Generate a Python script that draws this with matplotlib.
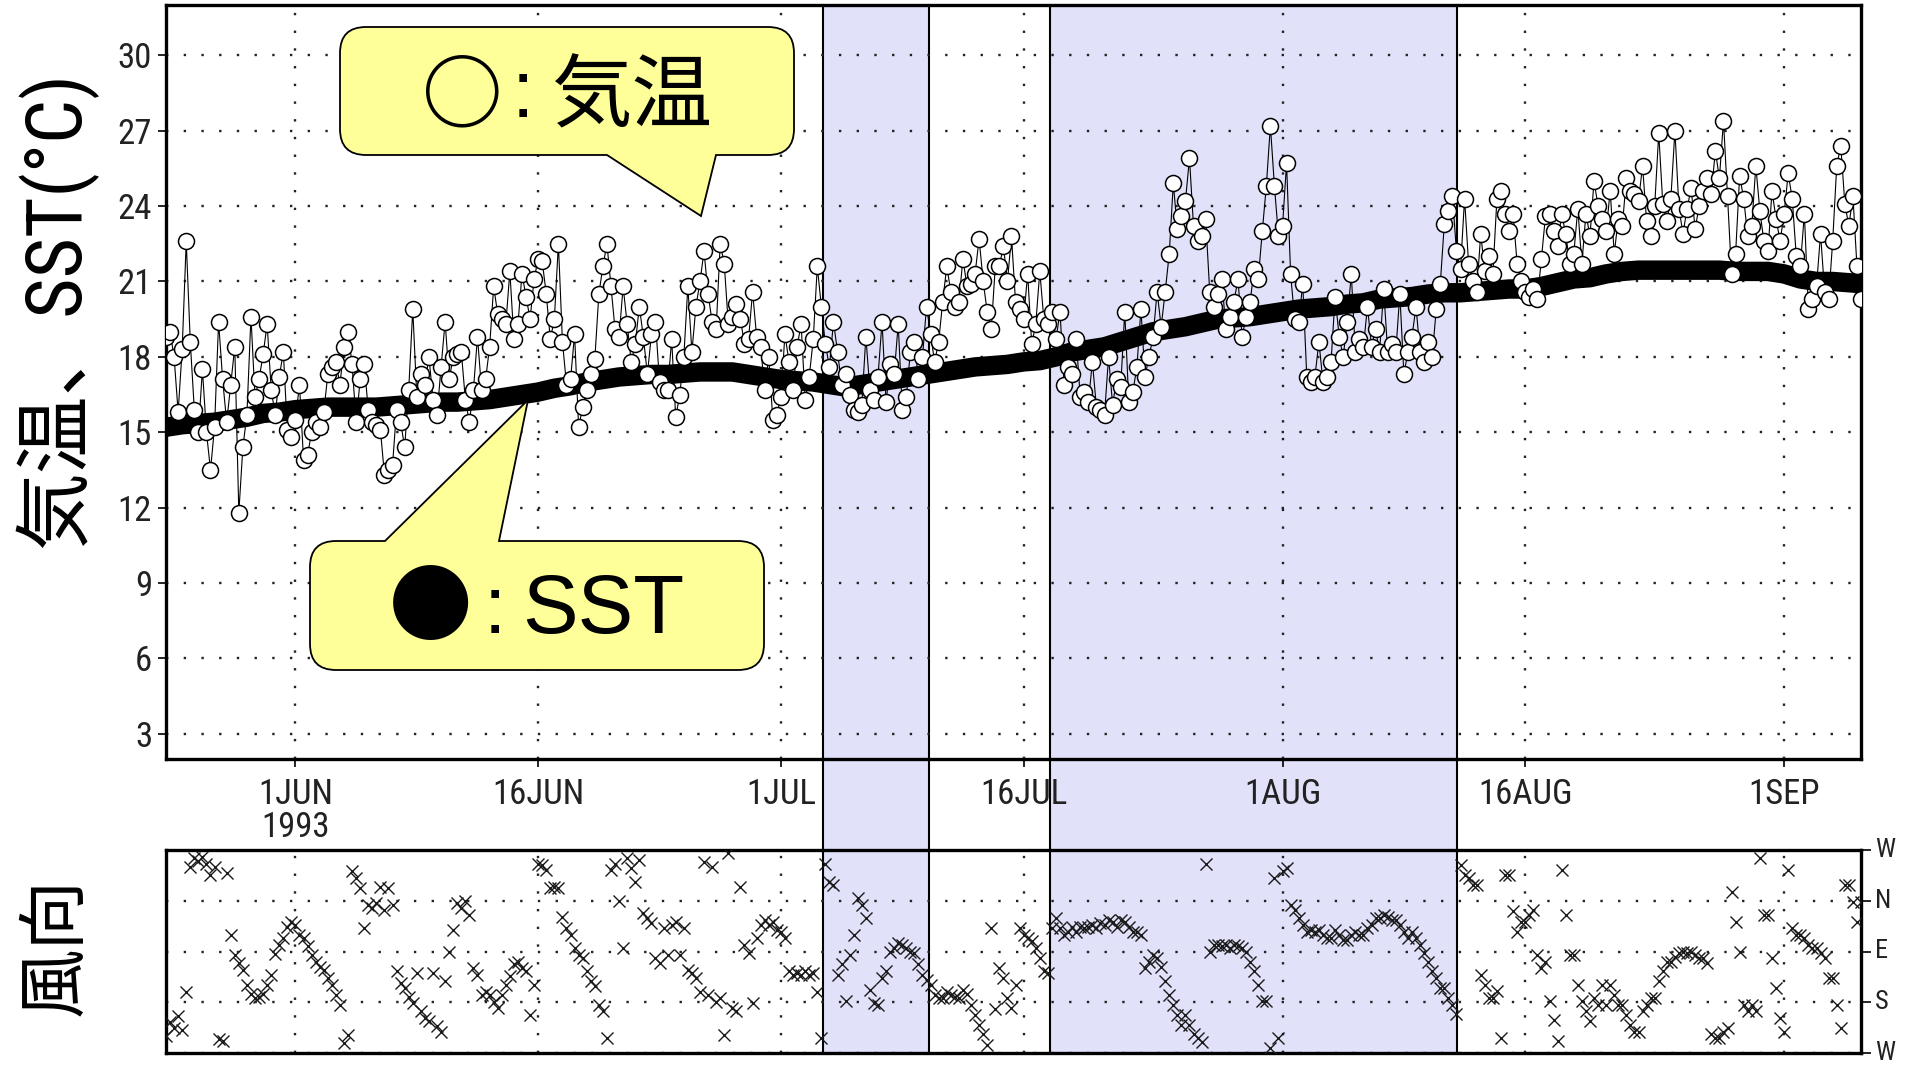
import numpy as np
import pandas as pd
import matplotlib
matplotlib.use('Agg')
import matplotlib.pyplot as plt
import matplotlib.dates as mdates
from matplotlib import font_manager
from matplotlib.patches import Rectangle, PathPatch
from matplotlib.lines import Line2D
from matplotlib.path import Path
from matplotlib.transforms import blended_transform_factory

# 6-hourly air temperature (degC) starting 1993-05-24 00Z, one day per line
air_temp = [
    18.8, 19.0, 18.0, 15.8,  18.3, 22.6, 18.6, 15.9,  15.0, 17.5, 15.0, 13.5,
    15.2, 19.4, 17.1, 15.4,  16.9, 18.4, 11.8, 14.4,  15.7, 19.6, 16.4, 17.1,
    18.1, 19.3, 16.7, 15.7,  17.2, 18.2, 15.1, 14.8,  15.5, 16.9, 13.9, 14.1,
    15.0, 15.4, 15.2, 15.8,  17.3, 17.6, 17.8, 16.9,  18.4, 19.0, 17.7, 15.4,
    17.1, 17.7, 15.9, 15.4,  15.3, 15.1, 13.3, 13.5,  13.7, 15.9, 15.4, 14.4,
    16.7, 19.9, 16.4, 17.3,  16.9, 18.0, 16.3, 15.7,  17.6, 19.4, 17.1, 18.0,
    18.1, 18.2, 16.3, 15.4,  16.7, 18.8, 16.7, 17.1,  18.4, 20.8, 19.7, 19.5,
    19.3, 21.4, 18.7, 19.3,  21.3, 20.4, 19.5, 21.1,  21.9, 21.8, 20.5, 18.7,
    19.5, 22.5, 18.6, 16.9,  17.1, 18.9, 15.2, 16.0,  16.7, 17.3, 17.9, 20.5,
    21.6, 22.5, 20.8, 19.1,  18.8, 20.8, 19.3, 17.8,  18.5, 20.0, 18.8, 17.3,
    18.9, 19.4, 17.0, 16.7,  16.7, 18.7, 15.6, 16.5,  18.0, 20.8, 18.2, 20.0,
    21.0, 22.2, 20.5, 19.4,  19.1, 22.5, 21.7, 19.3,  19.6, 20.1, 19.5, 18.5,
    18.7, 20.6, 18.8, 18.4,  16.7, 18.0, 15.5, 15.7,  16.4, 18.9, 17.8, 16.7,
    18.4, 19.3, 16.3, 17.2,  18.7, 21.6, 20.0, 18.5,  17.6, 19.4, 18.2, 16.9,
    17.3, 16.5, 15.9, 15.8,  16.1, 18.8, 16.7, 16.3,  17.2, 19.4, 16.2, 17.7,
    17.3, 19.3, 15.9, 16.4,  18.2, 18.6, 17.1, 18.0,  20.0, 18.9, 17.8, 18.6,
    20.2, 21.6, 20.6, 20.0,  20.2, 21.9, 20.8, 20.9,  21.3, 22.7, 21.0, 19.8,
    19.1, 21.6, 21.6, 22.4,  21.0, 22.8, 20.2, 19.9,  19.5, 21.3, 18.5, 19.3,
    21.4, 19.5, 19.3, 19.8,  18.7, 19.8, 16.9, 17.6,  17.3, 18.7, 16.4, 16.6,
    16.2, 17.8, 16.0, 15.9,  15.7, 18.0, 16.1, 17.1,  16.8, 19.8, 16.2, 16.6,
    17.6, 19.9, 17.2, 18.0,  18.8, 20.6, 19.2, 20.6,  22.1, 24.9, 23.1, 23.6,
    24.2, 25.9, 23.2, 22.6,  22.8, 23.5, 20.6, 20.0,  20.5, 21.1, 19.1, 19.6,
    20.2, 21.1, 18.8, 19.6,  20.2, 21.5, 21.1, 23.0,  24.8, 27.2, 24.8, 22.8,
    23.2, 25.7, 21.3, 19.5,  19.4, 20.9, 17.2, 17.0,  17.2, 18.6, 17.0, 17.2,
    17.8, 20.4, 18.8, 18.0,  19.4, 21.3, 18.2, 18.7,  18.4, 20.0, 18.4, 19.1,
    18.2, 20.7, 18.2, 18.5,  18.2, 20.5, 17.3, 18.2,  18.8, 20.0, 18.2, 17.8,
    18.6, 18.0, 19.9, 20.9,  23.3, 23.8, 24.4, 22.2,  21.5, 24.3, 21.7, 21.0,
    20.6, 22.9, 21.4, 22.0,  21.3, 24.3, 24.6, 23.7,  23.0, 23.7, 21.7, 21.0,
    20.6, 20.4, 20.7, 20.3,  21.9, 23.6, 23.7, 23.0,  22.4, 23.7, 22.9, 21.7,
    22.1, 23.9, 21.7, 23.7,  22.8, 25.0, 24.0, 23.5,  23.0, 24.6, 22.1, 23.5,
    23.2, 25.1, 24.6, 24.5,  24.2, 25.6, 23.4, 22.8,  24.0, 26.9, 24.1, 23.4,
    24.3, 27.0, 23.9, 22.9,  23.9, 24.7, 23.1, 24.0,  24.6, 25.1, 24.5, 26.2,
    25.1, 27.4, 24.4, 21.3,  22.1, 25.2, 24.3, 22.8,  23.2, 25.6, 23.8, 22.6,
    22.2, 24.6, 23.5, 22.6,  23.7, 25.3, 24.3, 22.0,  21.6, 23.7, 19.9, 20.3,
    20.8, 22.9, 20.6, 20.3,  22.6, 25.6, 26.4, 24.1,  23.2, 24.4, 21.6, 20.3,
]

# daily sea surface temperature (degC) starting 1993-05-24
sst = [
    15.2, 15.3, 15.35, 15.4, 15.5, 15.6, 15.75, 15.8, 15.9, 15.95,
    16.0, 16.0, 16.0, 16.0, 16.05, 16.1, 16.15, 16.2, 16.2, 16.25,
    16.3, 16.4, 16.5, 16.6, 16.75, 16.85, 17.0, 17.1, 17.2, 17.25,
    17.3, 17.3, 17.35, 17.4, 17.4, 17.4, 17.3, 17.2, 17.1, 17.05,
    17.0, 16.9, 16.8, 16.9, 17.0, 17.1, 17.2, 17.3, 17.4, 17.5,
    17.6, 17.65, 17.7, 17.8, 17.85, 18.0, 18.2, 18.3, 18.4, 18.6,
    18.8, 19.0, 19.1, 19.2, 19.35, 19.5, 19.55, 19.6, 19.7, 19.8,
    19.9, 19.95, 20.0, 20.1, 20.15, 20.3, 20.35, 20.4, 20.5, 20.55,
    20.55, 20.6, 20.65, 20.7, 20.7, 20.8, 20.95, 21.1, 21.15, 21.3,
    21.4, 21.45, 21.45, 21.45, 21.45, 21.45, 21.45, 21.4, 21.4, 21.4,
    21.3, 21.1, 21.0, 21.0, 20.95, 20.9,
]

# 6-hourly wind direction (deg from north), same times as air_temp
wind_dir = [
    240, 215, 225, 205,  230, 161, 300, 285,  290, 282, 295, 314,
    300, 245, 249, 310,  60, 96, 110, 122,  150, 165, 173, 170,
    165, 150, 131, 95,  78, 66, 46, 37,  43, 60, 66, 81,
    96, 108, 117, 122,  137, 149, 167, 184,  252, 238, 308, 320,
    338, 49, 7, 13,  4, 335, 16, 338,  8, 125, 146, 155,
    170, 181, 128, 196,  208, 214, 128, 223,  232, 143, 90, 52,
    4, 13, 0, 25,  120, 131, 167, 161,  167, 179, 190, 167,
    149, 134, 113, 108,  120, 125, 202, 150,  294, 297, 305, 338,
    335, 338, 28, 49,  60, 84, 96, 102,  125, 143, 152, 184,
    196, 243, 305, 294,  0, 84, 285, 302,  326, 288, 22, 31,
    40, 102, 111, 49,  96, 43, 37, 96,  49, 122, 128, 137,
    161, 291, 167, 300,  179, 173, 238, 276,  190, 196, 335, 78,
    93, 181, 66, 43,  34, 43, 37, 52,  55, 66, 125, 131,
    128, 131, 125, 131,  128, 161, 243, 294,  326, 332, 131, 113,
    178, 96, 60, 355,  7, 31, 158, 181,  184, 137, 125, 90,
    84, 75, 78, 84,  90, 93, 113, 131,  140, 149, 167, 172,
    173, 161, 167, 170,  173, 158, 165, 184,  202, 220, 237, 255,
    49, 192, 120, 137,  172, 190, 149, 49,  60, 66, 72, 84,
    102, 125, 128, 49,  31, 49, 60, 55,  46, 55, 46, 49,
    46, 43, 49, 40,  43, 34, 37, 46,  34, 37, 46, 55,
    55, 60, 120, 108,  96, 102, 117, 143,  167, 184, 202, 220,
    202, 220, 237, 243,  250, 294, 90, 78,  78, 81, 78, 84,
    78, 81, 84, 90,  108, 125, 149, 178,  178, 261, 320, 243,
    308, 302, 7, 16,  31, 43, 55, 52,  55, 52, 60, 66,
    66, 52, 60, 69,  69, 60, 55, 60,  60, 49, 43, 31,
    31, 25, 28, 34,  34, 43, 55, 66,  55, 66, 78, 93,
    108, 125, 137, 155,  155, 172, 184, 200,  296, 314, 320, 332,
    332, 131, 149, 172,  172, 160, 243, 314,  314, 19, 55, 37,
    37, 25, 16, 96,  120, 108, 178, 211,  249, 305, 25, 96,
    96, 149, 178, 196,  214, 172, 184, 149,  184, 149, 167, 184,
    184, 202, 220, 232,  232, 196, 184, 172,  172, 143, 125, 108,
    108, 99, 93, 90,  93, 90, 96, 102,  102, 110, 237, 243,
    243, 232, 226, 344,  37, 90, 184, 196,  184, 196, 285, 25,
    25, 102, 155, 208,  232, 305, 49, 60,  60, 66, 78, 84,
    84, 93, 102, 137,  137, 184, 226, 332,  332, 2, 37, 2,
]

tick_dates = ['1993-06-01', '1993-06-16', '1993-07-01', '1993-07-16',
              '1993-08-01', '1993-08-16', '1993-09-01']
tick_labels = ['1JUN\n1993', '16JUN', '1JUL', '16JUL', '1AUG', '16AUG', '1SEP']
temp_ticks = [3, 6, 9, 12, 15, 18, 21, 24, 27, 30]
wind_ticks = [-90, 0, 90, 180, 270]
wind_labels = ['W', 'N', 'E', 'S', 'W']
shade_periods = [('1993-07-03 15:00', '1993-07-10 04:00'),
                 ('1993-07-17 15:30', '1993-08-11 19:00')]

times6 = pd.date_range('1993-05-24', periods=len(air_temp), freq='6h')
days = pd.date_range('1993-05-24', periods=len(sst), freq='D')
wd = np.array(wind_dir, dtype=float)
wind_y = np.where(wd > 270, wd - 360, wd)

# pick a narrow sans font if one is installed
avail = {f.name for f in font_manager.fontManager.ttflist}
narrow_font = next((n for n in ['Liberation Sans Narrow', 'Roboto Condensed', 'Arial Narrow',
                                'Open Sans Condensed', 'Liberation Sans'] if n in avail),
                   'DejaVu Sans')
narrow = [narrow_font, 'DejaVu Sans']

W, H = 1905, 1068
fig = plt.figure(figsize=(W / 100, H / 100), dpi=100)
ax1 = fig.add_axes([166 / W, 1 - 759 / H, (1861 - 166) / W, (759 - 5) / H])
ax2 = fig.add_axes([166 / W, 1 - 1053 / H, (1861 - 166) / W, (1053 - 850) / H])

x0, x1 = pd.Timestamp('1993-05-24 00:00'), pd.Timestamp('1993-09-05 18:00')
grid_kw = dict(color='#222222', linestyle=(0, (1, 6.5)), linewidth=1.7)
for ax in (ax1, ax2):
    ax.set_facecolor('none')
    ax.set_xlim(x0, x1)
    ax.set_xticks(pd.to_datetime(tick_dates))
    ax.set_axisbelow(True)
    ax.grid(True, **grid_kw)
    for sp in ax.spines.values():
        sp.set_linewidth(2.4)

# shaded periods + boundary lines span both panels
trans = blended_transform_factory(ax1.transData, fig.transFigure)
yb, yt = 1 - 1053 / H, 1 - 5 / H
for s, e in shade_periods:
    s_num = mdates.date2num(pd.Timestamp(s))
    e_num = mdates.date2num(pd.Timestamp(e))
    fig.add_artist(Rectangle((s_num, yb), e_num - s_num, yt - yb, transform=trans,
                             facecolor='#E1E1FA', edgecolor='none', zorder=-2))
    for xv in (s_num, e_num):
        fig.add_artist(Line2D([xv, xv], [yb, yt], transform=trans, color='black',
                              linewidth=1.5, zorder=-1))

# top panel: air temperature and SST
ax1.plot(days, sst, color='black', linewidth=14, solid_capstyle='round', zorder=3)
ax1.plot(times6, air_temp, '-', color='black', linewidth=0.8, marker='o', markersize=11.5,
         markerfacecolor='white', markeredgecolor='black', markeredgewidth=1.1, zorder=4)
ax1.set_ylim(2, 32)
ax1.set_yticks(temp_ticks)
ax1.set_xticklabels(tick_labels)
ax1.tick_params(axis='both', direction='out', length=6, width=1.2, labelsize=25,
                labelcolor='#222222', pad=4)
ax1.tick_params(axis='x', pad=8)
for lbl in ax1.get_xticklabels() + ax1.get_yticklabels():
    lbl.set_family(narrow)
for lbl in ax1.get_xticklabels():
    lbl.set_linespacing(1.0)

# bottom panel: wind direction
ax2.plot(times6, wind_y, 'x', color='#1a1a1a', markersize=8, markeredgewidth=1.0, zorder=3)
ax2.set_ylim(270, -90)
ax2.set_yticks(wind_ticks)
ax2.set_yticklabels(wind_labels)
ax2.yaxis.tick_right()
ax2.tick_params(axis='y', direction='out', length=7, width=1.2, labelsize=19,
                labelcolor='#222222', pad=3)
ax2.tick_params(axis='x', length=0, labelbottom=False)
for lbl in ax2.get_yticklabels():
    lbl.set_family(narrow)
    lbl.set_verticalalignment('center')

fig.text(55 / W, 1 - 310 / H, '気温、SST(°C)', rotation=90, ha='center', va='center',
         fontsize=56, family=[narrow_font, 'Noto Sans CJK JP'])
fig.text(56 / W, 1 - 946 / H, '風向', rotation=90, ha='center', va='center',
         fontsize=50, family=['Noto Sans CJK JP'])


def callout(bx0, by0, bx1, by1, r, tail, apex, side):
    t0, t1 = tail
    verts, codes = [], []

    def mv(p):
        verts.append(p); codes.append(Path.MOVETO)

    def ln(p):
        verts.append(p); codes.append(Path.LINETO)

    def cv(c, p):
        verts.extend([c, p]); codes.extend([Path.CURVE3, Path.CURVE3])

    mv((bx0 + r, by0))
    if side == 'top':
        ln((t0, by0)); ln(apex); ln((t1, by0))
    ln((bx1 - r, by0)); cv((bx1, by0), (bx1, by0 + r))
    ln((bx1, by1 - r)); cv((bx1, by1), (bx1 - r, by1))
    if side == 'bottom':
        ln((t1, by1)); ln(apex); ln((t0, by1))
    ln((bx0 + r, by1)); cv((bx0, by1), (bx0, by1 - r))
    ln((bx0, by0 + r)); cv((bx0, by0), (bx0 + r, by0))
    verts.append((bx0 + r, by0)); codes.append(Path.CLOSEPOLY)
    verts = [(x / W, 1 - y / H) for x, y in verts]
    fig.add_artist(PathPatch(Path(verts, codes), transform=fig.transFigure,
                             facecolor='#FFFF99', edgecolor='black', linewidth=1.3,
                             zorder=10))


callout(340, 27, 794, 155, 26, (607, 716), (701, 216), 'bottom')
callout(310, 541, 764, 670, 26, (385, 499), (528, 400), 'top')

cjk = ['Noto Sans CJK JP']
fig.text(462 / W, 1 - 98 / H, '○', ha='center', va='center', fontsize=58, family=cjk,
         fontweight='bold', zorder=11)
fig.text(523 / W, 1 - 96 / H, ':', ha='center', va='center', fontsize=58,
         family=['Liberation Sans'], zorder=11)
fig.text(632 / W, 1 - 98 / H, '気温', ha='center', va='center', fontsize=58, family=cjk, zorder=11)
fig.text(431 / W, 1 - 610 / H, '●', ha='center', va='center', fontsize=60, family=cjk, zorder=11)
fig.text(495 / W, 1 - 612 / H, ':', ha='center', va='center', fontsize=58,
         family=['Liberation Sans'], zorder=11)
fig.text(603 / W, 1 - 611 / H, 'SST', ha='center', va='center', fontsize=60,
         family=['Liberation Sans'], zorder=11)

fig.savefig('out.png', dpi=100)
